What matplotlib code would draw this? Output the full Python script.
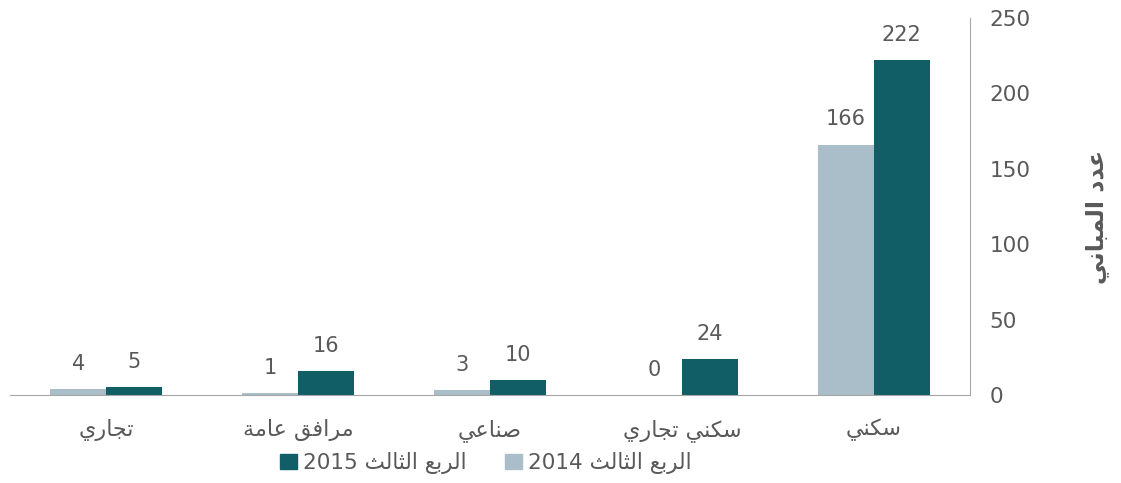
import matplotlib
matplotlib.use("Agg")
import matplotlib.pyplot as plt
import numpy as np
from matplotlib.patches import Patch

# ---- minimal Arabic shaping (presentation forms) + visual ordering ----
FORMS = {
    'ا': ('\uFE8D', '\uFE8E', None, None),
    'ب': ('\uFE8F', '\uFE90', '\uFE91', '\uFE92'),
    'ة': ('\uFE93', '\uFE94', None, None),
    'ت': ('\uFE95', '\uFE96', '\uFE97', '\uFE98'),
    'ث': ('\uFE99', '\uFE9A', '\uFE9B', '\uFE9C'),
    'ج': ('\uFE9D', '\uFE9E', '\uFE9F', '\uFEA0'),
    'د': ('\uFEA9', '\uFEAA', None, None),
    'ر': ('\uFEAD', '\uFEAE', None, None),
    'س': ('\uFEB1', '\uFEB2', '\uFEB3', '\uFEB4'),
    'ص': ('\uFEB9', '\uFEBA', '\uFEBB', '\uFEBC'),
    'ع': ('\uFEC9', '\uFECA', '\uFECB', '\uFECC'),
    'ف': ('\uFED1', '\uFED2', '\uFED3', '\uFED4'),
    'ق': ('\uFED5', '\uFED6', '\uFED7', '\uFED8'),
    'ك': ('\uFED9', '\uFEDA', '\uFEDB', '\uFEDC'),
    'ل': ('\uFEDD', '\uFEDE', '\uFEDF', '\uFEE0'),
    'م': ('\uFEE1', '\uFEE2', '\uFEE3', '\uFEE4'),
    'ن': ('\uFEE5', '\uFEE6', '\uFEE7', '\uFEE8'),
    'ي': ('\uFEF1', '\uFEF2', '\uFEF3', '\uFEF4'),
}


def dual(c):
    return c in FORMS and FORMS[c][2] is not None


def shape(text):
    out = []
    for i, c in enumerate(text):
        if c not in FORMS:
            out.append(c)
            continue
        prev = text[i - 1] if i > 0 else ''
        nxt = text[i + 1] if i + 1 < len(text) else ''
        cp = dual(prev)
        cn = dual(c) and nxt in FORMS
        iso, fin, ini, med = FORMS[c]
        if cp and cn:
            out.append(med)
        elif cp:
            out.append(fin)
        elif cn:
            out.append(ini)
        else:
            out.append(iso)
    s = ''.join(out)[::-1]
    # restore digit runs to LTR
    res, run = [], ''
    for ch in s:
        if ch.isdigit():
            run += ch
        else:
            if run:
                res.append(run[::-1])
                run = ''
            res.append(ch)
    if run:
        res.append(run[::-1])
    return ''.join(res)


# ---- data ----
categories = ['تجاري', 'مرافق عامة', 'صناعي', 'سكني تجاري', 'سكني']
series_names = ['الربع الثالث 2014', 'الربع الثالث 2015']
values_2014 = [4, 1, 3, 0, 166]
values_2015 = [5, 16, 10, 24, 222]
yticks = [0, 50, 100, 150, 200, 250]
ylabel = 'عدد المباني'

c14 = '#A9BEC8'
c15 = '#115E67'
txt = '#595959'
spine = '#A6A6A6'

plt.rcParams['font.family'] = ['DejaVu Sans']

fig = plt.figure(figsize=(11.21, 4.83), dpi=100)
ax = fig.add_axes([10 / 1121, 88 / 483, 960 / 1121, 377 / 483])

x = np.arange(len(categories))
w = 0.29
b1 = ax.bar(x - w / 2, values_2014, w, color=c14)
b2 = ax.bar(x + w / 2, values_2015, w, color=c15)

for bars, vals in ((b1, values_2014), (b2, values_2015)):
    for r, v in zip(bars, vals):
        ax.annotate(str(v), (r.get_x() + r.get_width() / 2, v),
                    xytext=(0, 11), textcoords='offset points',
                    ha='center', va='bottom', fontsize=15, color=txt)

ax.set_xlim(-0.5, len(categories) - 0.5)
ax.set_ylim(0, 250)
ax.set_yticks(yticks)
ax.yaxis.tick_right()
ax.tick_params(axis='y', length=0, pad=14, labelsize=15.5, labelcolor=txt)
ax.set_xticks(x)
ax.set_xticklabels([shape(c) for c in categories])
ax.tick_params(axis='x', length=0, pad=17, labelsize=16, labelcolor=txt)
for t in ax.get_yticklabels():
    t.set_horizontalalignment('left')

ax.spines['top'].set_visible(False)
ax.spines['left'].set_visible(False)
ax.spines['right'].set_color(spine)
ax.spines['bottom'].set_color(spine)

fig.text(1097 / 1121, (483 - 217) / 483, shape(ylabel), rotation=90,
         ha='center', va='center', fontsize=17, fontweight='bold', color=txt)

handles = [Patch(color=c15), Patch(color=c14)]
labels = [shape(series_names[1]), shape(series_names[0])]
fig.legend(handles, labels, loc='center', bbox_to_anchor=(486 / 1121, (483 - 463) / 483),
           ncol=2, frameon=False, fontsize=15.5, labelcolor=txt,
           handlelength=0.75, handleheight=0.75, handletextpad=0.3, columnspacing=1.8)

fig.savefig('out.png', dpi=100)
